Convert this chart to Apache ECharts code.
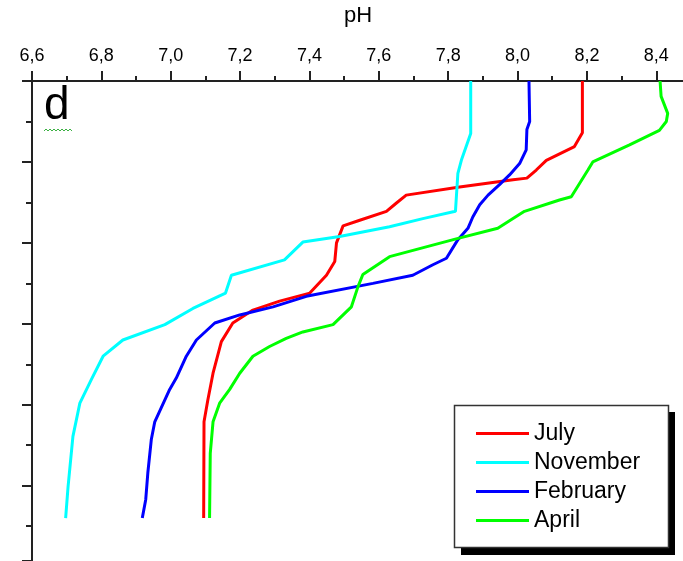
<!DOCTYPE html>
<html>
<head>
<meta charset="utf-8">
<script src="https://cdn.jsdelivr.net/npm/echarts@6/dist/echarts.min.js"></script>
<style>
    html, body { margin: 0; padding: 0; background: #fff; }
    #chart { width: 683px; height: 561px; }
</style>
</head>
<body>
<div id="chart"></div>
<script>
// depth profiles of pH, depth in arbitrary units (major tick every 10)
const julyDepth = [0, 6.4, 8.1, 9.8, 11.0, 12.0, 12.2, 13.1, 14.1, 15.1, 16.1, 17.2, 17.9, 20.0, 22.3, 24.0, 26.2, 27.2, 28.3, 29.9, 32.2, 36.1, 39.4, 42.1, 54.0];
const julyPH = [8.187, 8.187, 8.164, 8.083, 8.054, 8.027, 7.987, 7.833, 7.679, 7.650, 7.622, 7.545, 7.497, 7.478, 7.473, 7.449, 7.401, 7.314, 7.237, 7.179, 7.146, 7.122, 7.107, 7.096, 7.095];

const novDepth = [0, 6.5, 9.8, 11.4, 16.1, 17.0, 18.0, 19.2, 19.9, 22.1, 24.0, 26.2, 28.1, 30.1, 32.0, 34.0, 36.9, 39.8, 43.9, 50.1, 54.0];
const novPH = [7.865, 7.865, 7.838, 7.828, 7.821, 7.727, 7.631, 7.487, 7.381, 7.328, 7.175, 7.158, 7.064, 6.983, 6.862, 6.805, 6.771, 6.738, 6.718, 6.704, 6.697];

const febDepth = [0, 5.0, 6.0, 8.5, 10.2, 11.6, 12.8, 14.1, 15.3, 16.8, 18.2, 19.6, 21.9, 22.7, 24.0, 25.0, 26.6, 27.9, 28.9, 29.9, 32.0, 34.0, 36.7, 38.1, 42.1, 44.3, 48.4, 51.7, 54.0];
const febPH = [8.033, 8.035, 8.027, 8.025, 8.006, 7.977, 7.948, 7.915, 7.891, 7.871, 7.857, 7.828, 7.795, 7.756, 7.698, 7.583, 7.391, 7.295, 7.199, 7.127, 7.074, 7.045, 7.016, 6.997, 6.954, 6.944, 6.934, 6.928, 6.918];

const aprDepth = [0, 1.9, 4.0, 5.0, 6.1, 7.9, 10.0, 11.0, 14.3, 14.7, 16.1, 17.0, 18.2, 19.5, 21.7, 23.9, 25.4, 27.9, 30.1, 31.0, 31.8, 32.8, 34.0, 36.1, 38.1, 39.8, 42.1, 46.0, 54.0];
const aprPH = [8.411, 8.414, 8.433, 8.429, 8.409, 8.323, 8.217, 8.203, 8.155, 8.121, 8.020, 7.987, 7.943, 7.823, 7.631, 7.554, 7.540, 7.521, 7.468, 7.381, 7.333, 7.285, 7.237, 7.199, 7.170, 7.141, 7.122, 7.114, 7.112];

const seriesNames = ["July", "November", "February", "April"];
const seriesColors = ["#ff0000", "#00ffff", "#0000ff", "#00ff00"];
const profiles = [
    [julyPH, julyDepth],
    [novPH, novDepth],
    [febPH, febDepth],
    [aprPH, aprDepth],
];

const chart = echarts.init(document.getElementById("chart"), null, { renderer: "canvas" });

const axisColor = "#222";
const font = "'Liberation Sans', Arial, sans-serif";

chart.setOption({
    animation: false,
    textStyle: { fontFamily: font },
    grid: { left: 32, top: 81, width: 652, height: 480, outerBoundsMode: "none", containLabel: false },
    xAxis: {
        type: "value",
        position: "top",
        min: 6.6,
        max: 8.48,
        interval: 0.2,
        name: "pH",
        nameLocation: "middle",
        nameGap: 54,
        nameTextStyle: { fontSize: 22, color: "#000", fontFamily: font },
        axisLine: { onZero: false, lineStyle: { color: axisColor, width: 2 } },
        axisTick: { inside: false, length: 10, lineStyle: { color: axisColor, width: 2 } },
        minorTick: { show: true, splitNumber: 2, length: 5, lineStyle: { color: axisColor, width: 2 } },
        axisLabel: {
            fontSize: 18,
            color: "#000",
            margin: 16,
            fontFamily: font,
            formatter: (v) => (v > 8.45 ? "" : v.toFixed(1).replace(".", ",")),
        },
        splitLine: { show: false },
    },
    yAxis: {
        type: "value",
        inverse: true,
        min: 0,
        max: 59.3,
        interval: 10,
        axisLine: { onZero: false, lineStyle: { color: axisColor, width: 2 } },
        axisTick: { inside: false, length: 10, lineStyle: { color: axisColor, width: 2 } },
        minorTick: { show: true, splitNumber: 2, length: 6, lineStyle: { color: axisColor, width: 2 } },
        axisLabel: { show: false },
        splitLine: { show: false },
    },
    legend: {
        orient: "vertical",
        left: 455,
        top: 405,
        padding: [17, 27, 19, 21],
        itemGap: 6,
        itemWidth: 53,
        itemHeight: 3,
        icon: "rect",
        data: seriesNames,
        textStyle: { fontSize: 23, lineHeight: 22, color: "#000", fontFamily: font },
    },
    graphic: [
        // x axis line runs a bit left of the y axis
        { type: "line", shape: { x1: 22, y1: 81, x2: 33, y2: 81 }, style: { stroke: axisColor, lineWidth: 2 } },
        { type: "text", left: 44, top: 83, style: { text: "d", fontSize: 46, fill: "#000", fontFamily: font } },
        {
            type: "polyline",
            shape: { points: [[44, 131], [46, 129], [48, 131], [50, 129], [52, 131], [54, 129], [56, 131], [58, 129], [60, 131], [62, 129], [64, 131], [66, 129], [68, 131], [70, 129], [72, 131]] },
            style: { stroke: "#3cb043", lineWidth: 1, fill: null },
        },
        // legend frame with its drop shadow
        { type: "rect", shape: { x: 461, y: 412, width: 214, height: 143 }, style: { fill: "#000" } },
        { type: "rect", shape: { x: 454.5, y: 405.5, width: 214, height: 142 }, style: { fill: "#fff", stroke: "#333", lineWidth: 1.5 } },
    ],
    series: profiles.map(([ph, depth], i) => ({
        name: seriesNames[i],
        type: "line",
        data: ph.map((p, k) => [p, depth[k]]),
        showSymbol: false,
        symbol: "none",
        lineStyle: { color: seriesColors[i], width: 3 },
        itemStyle: { color: seriesColors[i] },
    })),
});
</script>
</body>
</html>
